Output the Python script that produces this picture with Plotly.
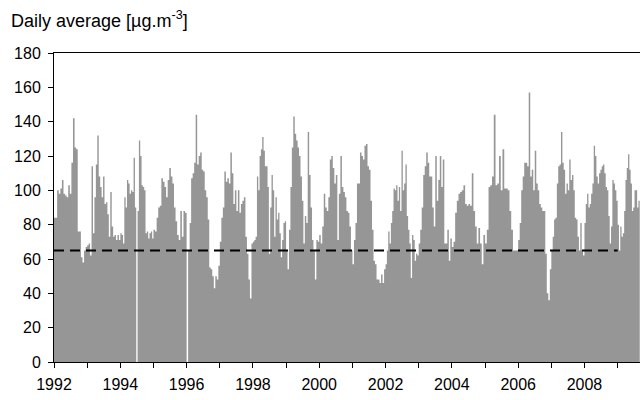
import pandas as pd
import plotly.graph_objects as go

# Daily average concentration, sampled roughly every two weeks through each year
pm_1992 = [84, 84, 100, 98, 101, 106, 98, 97, 96, 103, 98, 116, 142, 125, 124, 76, 76, 61, 58, 65, 67]
pm_1993 = [68, 69, 62, 114, 75, 96, 115, 132, 108, 102, 96, 108, 92, 93, 86, 73, 99, 79, 73, 74, 71, 74, 71]
pm_1994 = [75, 74, 69, 96, 90, 106, 104, 98, 100, 99, 119, 90, 0, 88, 129, 120, 103, 102, 100, 75, 76, 72, 75, 76, 72]
pm_1995 = [77, 76, 84, 90, 91, 107, 105, 102, 96, 106, 113, 108, 104, 90, 82, 74, 71, 88, 73, 88, 87]
pm_1996 = [0, 65, 81, 107, 110, 116, 144, 115, 120, 122, 112, 111, 100, 96, 83, 55, 54, 50, 43, 50, 48, 56]
pm_1997 = [70, 84, 90, 111, 105, 107, 104, 122, 110, 92, 100, 88, 100, 87, 92, 94, 96, 73, 63, 48, 37, 69]
pm_1998 = [70, 71, 73, 108, 100, 120, 124, 131, 123, 114, 114, 102, 63, 90, 109, 100, 73, 96, 83, 87, 75, 61, 71, 81, 82]
pm_1999 = [65, 54, 77, 102, 125, 143, 133, 129, 125, 120, 108, 94, 69, 85, 81, 134, 109, 90, 71, 65, 48, 71, 70]
pm_2000 = [74, 69, 79, 98, 90, 88, 96, 118, 120, 113, 104, 109, 71, 98, 120, 102, 99, 96, 88, 87, 79, 65]
pm_2001 = [57, 71, 81, 104, 104, 122, 120, 118, 126, 127, 114, 112, 94, 77, 59, 57, 48, 48, 46, 51, 46, 54]
pm_2002 = [57, 65, 76, 69, 81, 88, 101, 100, 103, 94, 102, 88, 123, 100, 104, 115, 85, 77, 69, 49, 74, 71, 59, 63, 62]
pm_2003 = [69, 77, 90, 109, 114, 122, 116, 108, 108, 90, 79, 120, 94, 106, 120, 102, 118, 69, 69, 77, 59, 72]
pm_2004 = [67, 70, 87, 94, 98, 99, 100, 103, 92, 91, 92, 91, 110, 88, 79, 69, 78, 69, 57, 74]
pm_2005 = [69, 77, 102, 103, 108, 144, 103, 104, 120, 100, 124, 101, 101, 100, 88, 77, 65, 65, 65]
pm_2006 = [71, 81, 100, 108, 116, 116, 114, 157, 108, 112, 100, 123, 104, 100, 92, 90, 88, 88, 63, 40, 36, 54]
pm_2007 = [65, 73, 83, 84, 104, 114, 115, 134, 116, 112, 98, 104, 100, 118, 106, 109, 100, 84, 83, 73, 65, 81, 65, 62]
pm_2008 = [81, 92, 98, 90, 92, 98, 104, 126, 120, 108, 104, 110, 112, 114, 115, 110, 102, 100, 85, 69, 79, 106, 104, 100, 94]
pm_2009 = [80, 65, 79, 73, 75, 88, 106, 113, 121, 112, 104, 88, 90, 100, 100, 90, 94]

years = list(range(1992, 2010))
yearly = [pm_1992, pm_1993, pm_1994, pm_1995, pm_1996, pm_1997, pm_1998, pm_1999, pm_2000,
          pm_2001, pm_2002, pm_2003, pm_2004, pm_2005, pm_2006, pm_2007, pm_2008, pm_2009]
last_day = "2009-09-01"

limit_value = 65
limit_span = ["1992-01-01", "2009-01-01"]

y_ticks = list(range(0, 181, 20))

# Spread each year's samples evenly over the year
dates, values = [], []
for yr, vals in zip(years, yearly):
    start = pd.Timestamp(f"{yr}-01-01")
    stop = pd.Timestamp(f"{yr + 1}-01-01") if yr < years[-1] else pd.Timestamp(last_day)
    step = (stop - start) / len(vals)
    for i, v in enumerate(vals):
        dates.append(start + i * step)
        values.append(v)
dates.append(pd.Timestamp(last_day))
values.append(values[-1])

font = "Liberation Sans, Arial, sans-serif"

fig = go.Figure()
fig.add_trace(go.Scatter(
    x=dates, y=values, mode="lines",
    line=dict(width=0, shape="hv", color="#969696"),
    fill="tozeroy", fillcolor="#969696",
    hoverinfo="skip", showlegend=False,
))
fig.add_trace(go.Scatter(
    x=limit_span, y=[limit_value, limit_value], mode="lines",
    line=dict(color="black", width=2, dash="10px,6px"),
    hoverinfo="skip", showlegend=False,
))

fig.update_layout(
    width=640, height=400,
    margin=dict(l=54, r=0, t=53, b=38),
    paper_bgcolor="white", plot_bgcolor="white",
    font=dict(family=font, size=16, color="black"),
    showlegend=False,
    annotations=[dict(
        text="Daily average [µg.m<sup>-3</sup>]",
        xref="paper", yref="paper", x=-45 / 586, y=1.108,
        xanchor="left", yanchor="middle", showarrow=False,
        font=dict(family=font, size=18, color="black"),
    )],
)
fig.update_xaxes(
    type="date", range=["1992-01-01", "2009-09-04"],
    tick0="1992-01-01", dtick="M24", tickformat="%Y",
    ticks="outside", ticklen=5, tickcolor="black", tickwidth=1,
    showline=True, linecolor="black", linewidth=1, mirror=True,
    showgrid=False, zeroline=False, ticklabelstandoff=3,
    minor=dict(dtick="M12", ticks="outside", ticklen=5, tickcolor="black", showgrid=False),
)
fig.update_yaxes(
    range=[0, 180], tickvals=y_ticks,
    ticks="outside", ticklen=5, tickcolor="black", tickwidth=1,
    showline=True, linecolor="black", linewidth=1,
    showgrid=False, zeroline=False, ticklabelstandoff=4,
)

fig.write_html("out.html")
